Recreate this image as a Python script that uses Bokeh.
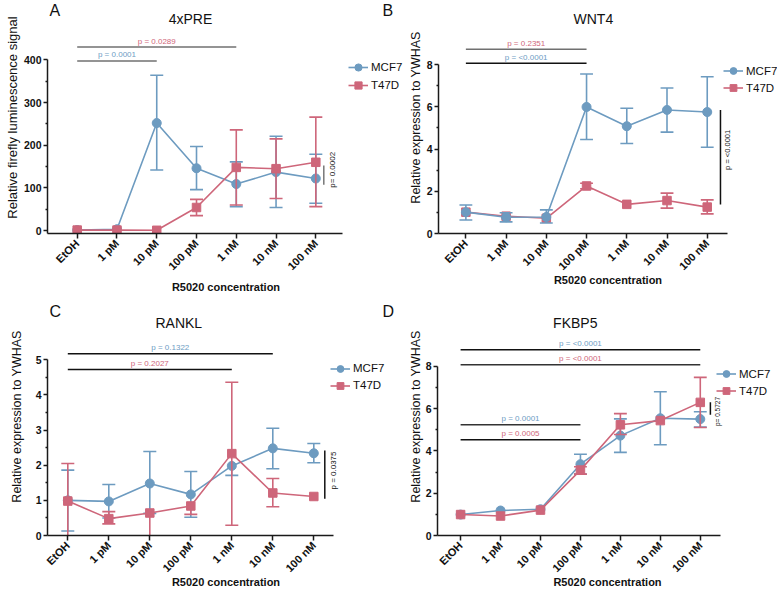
import math
from bokeh.plotting import figure
from bokeh.models import Range1d, FixedTicker, Label, Legend, LegendItem
from bokeh.layouts import row, column
from bokeh.embed import file_html
from bokeh.resources import INLINE

# ---------------- data ----------------
categories = ["EtOH", "1 pM", "10 pM", "100 pM", "1 nM", "10 nM", "100 nM"]
series_names = ["MCF7", "T47D"]
x_title = "R5020 concentration"

# Panel A - 4xPRE
a_title = "4xPRE"
a_ylabel = "Relative firefly luminescence signal"
a_mcf7 = [1, 3, 252, 146, 109, 137, 122]
a_mcf7_lo = [None, None, 142, 96, 56, 54, 64]
a_mcf7_hi = [None, None, 364, 197, 161, 221, 179]
a_t47d = [1, 1, 0.5, 54, 148, 145, 160]
a_t47d_lo = [None, None, None, 35, 60, 75, 56]
a_t47d_hi = [None, None, None, 73, 236, 215, 266]
a_yticks = [0, 100, 200, 300, 400]
a_yminor = [50, 150, 250, 350]
a_brackets = [(0, 4, "p = 0.0289", "T47D"), (0, 2, "p = 0.0001", "MCF7")]
a_vp = "p= 0.0002"

# Panel B - WNT4
b_title = "WNT4"
b_ylabel = "Relative expression to YWHAS"
b_mcf7 = [1.01, 0.77, 0.78, 5.99, 5.08, 5.85, 5.75]
b_mcf7_lo = [0.64, 0.55, 0.5, 4.45, 4.26, 4.8, 4.08]
b_mcf7_hi = [1.35, 0.98, 1.12, 7.55, 5.93, 6.89, 7.42]
b_t47d = [1.01, 0.82, 0.72, 2.25, 1.38, 1.56, 1.25]
b_t47d_lo = [None, None, None, 2.12, None, 1.2, 0.93]
b_t47d_hi = [None, None, None, 2.38, None, 1.91, 1.59]
b_yticks = [0, 2, 4, 6, 8]
b_yminor = [1, 3, 5, 7]
b_brackets = [(0, 3, "p = 0.2351", "T47D"), (0, 3, "p = <0.0001", "MCF7")]
b_vp = "p = <0.0001"

# Panel C - RANKL
c_title = "RANKL"
c_ylabel = "Relative expression to YWHAS"
c_mcf7 = [1.0, 0.97, 1.48, 1.17, 1.98, 2.48, 2.34]
c_mcf7_lo = [0.13, 0.5, 0.63, 0.52, 1.71, 1.9, 2.07]
c_mcf7_hi = [1.86, 1.45, 2.39, 1.82, 1.98, 3.05, 2.62]
c_t47d = [0.98, 0.48, 0.64, 0.84, 2.33, 1.21, 1.11]
c_t47d_lo = [0, 0.33, 0, 0.6, 0.29, 0.82, None]
c_t47d_hi = [2.05, 0.68, 0.64, 0.84, 4.36, 1.62, None]
c_yticks = [0, 1, 2, 3, 4, 5]
c_yminor = [0.5, 1.5, 2.5, 3.5, 4.5]
c_brackets = [(0, 5, "p = 0.1322", "MCF7"), (0, 4, "p = 0.2027", "T47D")]
c_vp = "p = 0.0375"

# Panel D - FKBP5
d_title = "FKBP5"
d_ylabel = "Relative expression to YWHAS"
d_mcf7 = [0.99, 1.18, 1.24, 3.37, 4.72, 5.54, 5.5]
d_mcf7_lo = [None, None, None, 2.9, 3.93, 4.29, 5.12]
d_mcf7_hi = [None, None, None, 3.84, 5.51, 6.79, 5.85]
d_t47d = [0.99, 0.92, 1.2, 3.09, 5.23, 5.43, 6.29]
d_t47d_lo = [None, None, None, 2.9, 4.77, None, 5.1]
d_t47d_hi = [None, None, None, 3.25, 5.76, None, 7.47]
d_yticks = [0, 2, 4, 6, 8]
d_yminor = [1, 3, 5, 7]
d_brackets = [(0, 6, "p = <0.0001", "MCF7"), (0, 6, "p = <0.0001", "T47D"),
              (0, 3, "p = 0.0001", "MCF7"), (0, 3, "p = 0.0005", "T47D")]
d_vp = "p= 0.5727"

# ---------------- style ----------------
FONT = "Liberation Sans"
COL = {"MCF7": "#6D9BC0", "T47D": "#CE667A"}
TXT = {"MCF7": "#6E9DC4", "T47D": "#D0677B"}
MARK = {"MCF7": ("circle", 9), "T47D": ("square", 8.5)}
AXC = "#1a1a1a"


def make_panel(g):
    ox, oy, W, H = g["ox"], g["oy"], g["W"], g["H"]
    cx0, dx = g["cx0"], g["dx"]
    y0 = g["y0"]
    sy = (g["y0"] - g["ytop"]) / g["yticks"][-1]
    FL, FT, FB = g["FL"], g["FT"], g["FB"]

    def X(px):
        return (px - cx0) / dx

    def Y(py):
        return (y0 - py) / sy

    x_start = X(FL)
    y_start = Y(FB)
    p = figure(width=W, height=H, output_backend="svg", toolbar_location=None, tools="",
               x_range=Range1d(x_start, X(ox + W - 1)),
               y_range=Range1d(y_start, Y(FT)),
               min_border_left=FL - ox, min_border_right=1, min_border_top=FT - oy,
               min_border_bottom=oy + H - FB)
    p.xgrid.visible = False
    p.ygrid.visible = False
    p.outline_line_color = None
    p.background_fill_color = "white"
    p.border_fill_color = "white"

    xa = p.xaxis[0]
    xa.ticker = FixedTicker(ticks=list(range(len(categories))))
    xa.major_label_overrides = {i: c for i, c in enumerate(categories)}
    xa.major_label_orientation = math.pi / 4
    xa.bounds = (x_start, g["xend"])
    xa.axis_line_width = 1.5
    xa.axis_line_color = AXC
    xa.major_tick_line_width = 1.5
    xa.major_tick_line_color = AXC
    xa.major_tick_out = 5
    xa.major_tick_in = 0
    xa.minor_tick_line_color = None
    xa.major_label_text_font = FONT
    xa.major_label_text_font_style = "bold"
    xa.major_label_text_font_size = "11px"
    xa.major_label_text_color = "#111"
    xa.major_label_standoff = 3
    xa.axis_label = x_title
    xa.axis_label_text_font = FONT
    xa.axis_label_text_font_style = "bold"
    xa.axis_label_text_font_size = "11px"
    xa.axis_label_text_color = "#111"
    xa.axis_label_standoff = g["xls"]

    ya = p.yaxis[0]
    ya.ticker = FixedTicker(ticks=g["yticks"], minor_ticks=g["yminor"])
    ya.bounds = (y_start, g["yticks"][-1])
    ya.axis_line_width = 1.5
    ya.axis_line_color = AXC
    ya.major_tick_line_width = 1.5
    ya.major_tick_line_color = AXC
    ya.minor_tick_line_width = 1.5
    ya.minor_tick_line_color = AXC
    ya.major_tick_out = 4
    ya.major_tick_in = 0
    ya.minor_tick_out = 2
    ya.minor_tick_in = 0
    ya.major_label_text_font = FONT
    ya.major_label_text_font_style = "bold"
    ya.major_label_text_font_size = "10.5px"
    ya.major_label_text_color = "#111"
    ya.major_label_standoff = 2
    ya.axis_label = g["ylabel"]
    ya.axis_label_text_font = FONT
    ya.axis_label_text_font_style = "normal"
    ya.axis_label_text_font_size = g["ylsize"]
    ya.axis_label_text_color = "#111"
    ya.axis_label_standoff = g["yls"]

    capw = 6.5 / dx
    idx = list(range(len(categories)))
    rends = {}
    for name in g["order"]:
        vals, lo, hi = g["series"][name]
        c = COL[name]
        ex, ey0, ey1, cxa, cxb, cy = [], [], [], [], [], []
        for i, v, l, h in zip(idx, vals, lo, hi):
            if l is None:
                continue
            ex.append(i)
            ey0.append(l)
            ey1.append(h)
            if h > v:
                cxa.append(i - capw); cxb.append(i + capw); cy.append(h)
            if l < v and l > 0:
                cxa.append(i - capw); cxb.append(i + capw); cy.append(l)
        p.segment(x0=ex, y0=ey0, x1=ex, y1=ey1, line_color=c, line_width=1.6)
        p.segment(x0=cxa, y0=cy, x1=cxb, y1=cy, line_color=c, line_width=1.6)
        lr = p.line(idx, vals, line_color=c, line_width=1.6)
        m, sz = MARK[name]
        sr = p.scatter(idx, vals, marker=m, size=sz, fill_color=c, line_color=c)
        rends[name] = [lr, sr]

    # significance brackets (levels given in page pixels)
    for (a, b, txt, who), lvl_px, lc in zip(g["brackets"], g["blevels"], g["bcolors"]):
        lvl = Y(lvl_px)
        p.segment(x0=[a], y0=[lvl], x1=[b], y1=[lvl], line_color=lc, line_width=1.5)
        p.add_layout(Label(x=(a + b) / 2, y=Y(lvl_px - 6), text=txt, text_font=FONT,
                           text_font_size="8px", text_color=TXT[who],
                           text_align="center", text_baseline="middle"))
    vx, vy0, vy1, vc = g["vline"]
    p.segment(x0=[X(vx)], y0=[Y(vy0)], x1=[X(vx)], y1=[Y(vy1)], line_color=vc, line_width=1.5)
    tx, ty, tsize = g["vtext"]
    p.add_layout(Label(x=X(tx), y=Y(ty), text=g["vp"], text_font=FONT, text_font_size=tsize,
                       text_color="#111", angle=math.pi / 2,
                       text_align="center", text_baseline="middle"))

    # texts inside the frame
    p.add_layout(Label(x=X(g["title_pos"][0]), y=Y(g["title_pos"][1]), text=g["title"],
                       text_font=FONT, text_font_size="14px", text_color="#111",
                       text_align="center", text_baseline="middle"))
    for letter, (lx, ly) in g["letters"]:
        p.add_layout(Label(x=X(lx), y=Y(ly), text=letter, text_font=FONT,
                           text_font_size="16px", text_color="#111",
                           text_align="left", text_baseline="middle"))

    # legend
    gl, r1, rh = g["legend"]
    leg_bottom = r1 - rh / 2 + 2 * rh
    items = [LegendItem(label=n, renderers=rends[n]) for n in series_names]
    leg = Legend(items=items, location=(gl - FL, FB - leg_bottom),
                 orientation="vertical", padding=0, margin=0, spacing=0,
                 glyph_width=20, glyph_height=rh, label_height=rh, label_standoff=3,
                 label_text_font=FONT, label_text_font_size="11.5px",
                 label_text_color="#111", border_line_alpha=0, background_fill_alpha=0)
    p.add_layout(leg)
    return p


WL, WR, HT = 405, 373, 296
FL1, FL2 = 47, 434          # common frame left edges per column
FT1, FB1 = 1, 234           # top row frame top/bottom
FT2, FB2 = 297, 535         # bottom row frame top/bottom

pA = make_panel(dict(
    ox=0, oy=0, W=WL, H=HT, FL=FL1, FT=FT1, FB=FB1,
    cx0=76.7, dx=39.77, y0=231.0, ytop=59.7, xend=6.66,
    yticks=a_yticks, yminor=a_yminor, order=["MCF7", "T47D"],
    series={"MCF7": (a_mcf7, a_mcf7_lo, a_mcf7_hi), "T47D": (a_t47d, a_t47d_lo, a_t47d_hi)},
    brackets=a_brackets, blevels=[46.7, 60.7], bcolors=["#707070", "#707070"],
    vline=(323.3, 185, 165.7, "#777777"), vtext=(331.7, 170, "8px"), vp=a_vp,
    title=a_title, title_pos=(190, 18.3), letters=[("A", (49, 10)), ("B", (382, 10))],
    ylabel=a_ylabel, ylsize="13px", yls=1, xls=2,
    legend=(348, 68.3, 18)))

pB = make_panel(dict(
    ox=WL, oy=0, W=WR, H=HT, FL=FL2, FT=FT1, FB=FB1,
    cx0=461.7, dx=40.7, y0=234.0, ytop=64.3, xend=6.51,
    yticks=b_yticks, yminor=b_yminor, order=["T47D", "MCF7"],
    series={"MCF7": (b_mcf7, b_mcf7_lo, b_mcf7_hi), "T47D": (b_t47d, b_t47d_lo, b_t47d_hi)},
    brackets=b_brackets, blevels=[49, 63], bcolors=["#707070", "#111111"],
    vline=(719.3, 205, 110, "#111111"), vtext=(726.7, 150, "7.5px"), vp=b_vp,
    title=b_title, title_pos=(590.7, 18.3), letters=[],
    ylabel=b_ylabel, ylsize="12.5px", yls=1, xls=-5,
    legend=(719, 71.7, 17)))

pC = make_panel(dict(
    ox=0, oy=HT, W=WL, H=HT, FL=FL1, FT=FT2, FB=FB2,
    cx0=67.3, dx=41.0, y0=535.0, ytop=359.3, xend=6.49,
    yticks=c_yticks, yminor=c_yminor, order=["MCF7", "T47D"],
    series={"MCF7": (c_mcf7, c_mcf7_lo, c_mcf7_hi), "T47D": (c_t47d, c_t47d_lo, c_t47d_hi)},
    brackets=c_brackets, blevels=[353.3, 369], bcolors=["#111111", "#111111"],
    vline=(324.3, 498.3, 450, "#111111"), vtext=(332.7, 470, "8px"), vp=c_vp,
    title=c_title, title_pos=(178.3, 322.7), letters=[("C", (49, 311)), ("D", (382, 311))],
    ylabel=c_ylabel, ylsize="12.5px", yls=9, xls=-5,
    legend=(330, 368.3, 17)))

pD = make_panel(dict(
    ox=WL, oy=HT, W=WR, H=HT, FL=FL2, FT=FT2, FB=FB2,
    cx0=457.3, dx=40.3, y0=535.0, ytop=365.7, xend=6.5,
    yticks=d_yticks, yminor=d_yminor, order=["MCF7", "T47D"],
    series={"MCF7": (d_mcf7, d_mcf7_lo, d_mcf7_hi), "T47D": (d_t47d, d_t47d_lo, d_t47d_hi)},
    brackets=d_brackets, blevels=[349.3, 364.3, 424.3, 439.3],
    bcolors=["#111111", "#333333", "#333333", "#111111"],
    vline=(709.3, 414.3, 401.7, "#111111"), vtext=(716, 411, "6.5px"), vp=d_vp,
    title=d_title, title_pos=(573, 322.7), letters=[],
    ylabel=d_ylabel, ylsize="12.5px", yls=0, xls=-5,
    legend=(713, 373.7, 17)))

layout = column(row(pA, pB), row(pC, pD))
open("out.html", "w").write(file_html(layout, INLINE))
